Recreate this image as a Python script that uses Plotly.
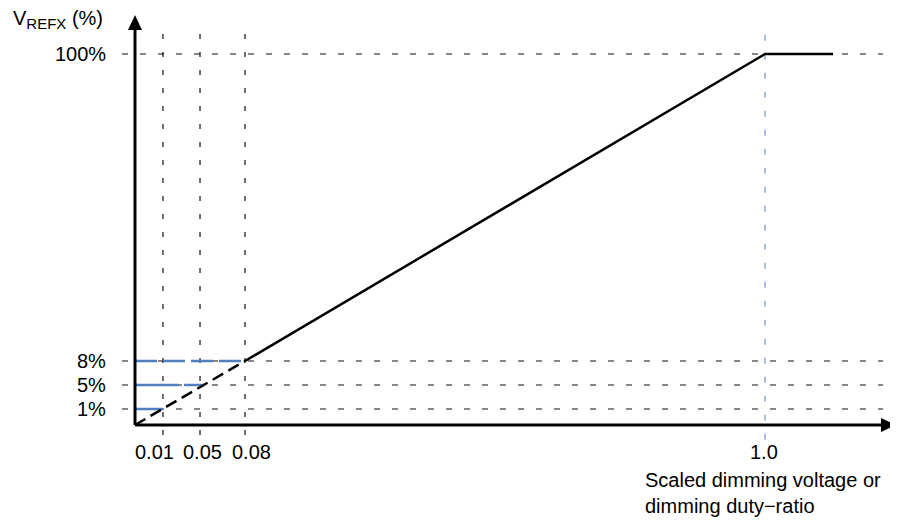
import plotly.graph_objects as go

# ---------------- data (schematic axes) ----------------
x_tick_labels = ["0.01", "0.05", "0.08", "1.0"]
x_tick_vals = [0.0444, 0.1032, 0.1746, 1.0]          # schematic axis units
y_tick_labels = ["1%", "5%", "8%", "100%"]
y_tick_vals = [4.31, 10.78, 17.25, 100.0]            # schematic axis units

# transfer curve V_REFX vs scaled dimming input
curve_dash_x = [0.0, 0.1746]
curve_dash_y = [0.0, 17.25]
curve_solid_x = [0.1746, 1.0, 1.108]
curve_solid_y = [17.25, 100.0, 100.0]

# blue reference lines (from the y axis to the curve)
ref_y = [4.31, 10.78, 17.25]
ref_end_x = [0.0444, 0.1111, 0.1746]

y_title = "V<sub><span style='font-size:15px'>REFX</span></sub> (%)"
x_title = "Scaled dimming voltage or<br>dimming duty\u2212ratio"

# ---------------- layout constants ----------------
PAGE_OFF = 8                      # default page margin of the html body
W, H = 898 - PAGE_OFF, 522 - PAGE_OFF
X_RANGE = [-0.20159, 1.21111]
Y_RANGE = [-26.145, 112.399]
FONT = "Liberation Sans, Arial, Helvetica, sans-serif"
FS = 20
BLUE = "#4f7fbf"
LBLUE = "#7596c8"
GRID = "#111111"

GRID_X0, GRID_X1 = -0.0206, 1.1873
VL_TOP, VL_BOT = 106.5, -2.7
VL_BOT_BLUE = -4.0
AX_X_END, AX_Y_END = 1.1841, 106.5


def px(xp):
    return (xp - PAGE_OFF) / W


def py(yp):
    return 1 - (yp - PAGE_OFF) / H


fig = go.Figure()


def line(x, y, color, width, dash="solid"):
    fig.add_trace(go.Scatter(x=x, y=y, mode="lines", hoverinfo="skip",
                             line=dict(color=color, width=width, dash=dash),
                             showlegend=False))


# horizontal dashed grid lines
for yv in y_tick_vals:
    line([GRID_X0, GRID_X1], [yv, yv], GRID, 1.2, "6px,12px")

# vertical dashed lines
for i, xv in enumerate(x_tick_vals):
    if x_tick_labels[i] == "1.0":
        line([xv, xv], [VL_BOT_BLUE, VL_TOP], LBLUE, 1.2, "6px,13px")
    else:
        line([xv, xv], [VL_BOT, VL_TOP], GRID, 1.2, "5px,13px")

# blue reference lines
ref_dash = ["solid", "44px,5px", "22px,6px"]
for yv, xe, d in zip(ref_y, ref_end_x, ref_dash):
    line([0, xe], [yv, yv], BLUE, 2.5, d)

# curve
line(curve_dash_x, curve_dash_y, "black", 2.5, "12px,6px")
line(curve_solid_x, curve_solid_y, "black", 2.5)

# axes
line([0, AX_X_END], [0, 0], "black", 3)
line([0, 0], [0, AX_Y_END], "black", 3)

shapes = [
    dict(type="path", xref="x", yref="y", xsizemode="pixel", ysizemode="pixel",
         xanchor=0, yanchor=AX_Y_END, path="M -7,0 L 7,0 L 0,15 Z",
         fillcolor="black", line=dict(width=0)),
    dict(type="path", xref="x", yref="y", xsizemode="pixel", ysizemode="pixel",
         xanchor=AX_X_END, yanchor=0, path="M 0,-7 L 0,7 L 15,0 Z",
         fillcolor="black", line=dict(width=0)),
]

annotations = []
for lab, yv in zip(y_tick_labels, y_tick_vals):
    annotations.append(dict(x=-0.0429, y=yv, xref="x", yref="y", text=lab,
                            xanchor="right", yanchor="middle", showarrow=False,
                            font=dict(size=FS, color="black", family=FONT)))
x_label_shift = [-8, 2, 6, -1]
for lab, xv, sh in zip(x_tick_labels, x_tick_vals, x_label_shift):
    annotations.append(dict(x=xv, y=-7.3, xref="x", yref="y", text=lab,
                            xanchor="center", yanchor="middle", showarrow=False,
                            xshift=sh,
                            font=dict(size=FS, color="black", family=FONT)))
annotations.append(dict(x=px(11), y=py(19), xref="paper", yref="paper", text=y_title,
                        xanchor="left", yanchor="middle", showarrow=False,
                        font=dict(size=FS, color="black", family=FONT)))
annotations.append(dict(x=px(643), y=py(493), xref="paper", yref="paper", text=x_title,
                        xanchor="left", yanchor="middle", align="left", showarrow=False,
                        font=dict(size=FS, color="black", family=FONT)))

fig.update_layout(
    width=W, height=H, autosize=False,
    margin=dict(l=0, r=0, t=0, b=0, pad=0),
    paper_bgcolor="white", plot_bgcolor="white",
    xaxis=dict(range=X_RANGE, visible=False, fixedrange=True),
    yaxis=dict(range=Y_RANGE, visible=False, fixedrange=True),
    shapes=shapes, annotations=annotations,
    showlegend=False,
)

fig.write_html("out.html")
